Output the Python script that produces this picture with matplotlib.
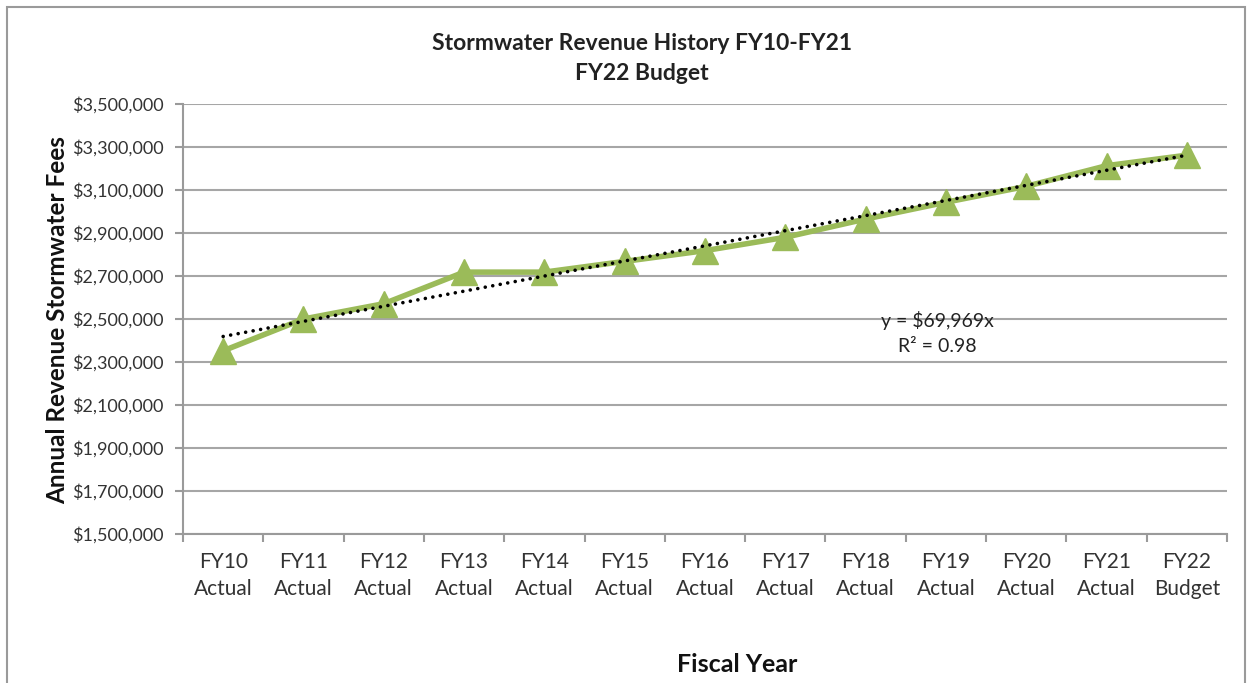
import matplotlib
matplotlib.use("Agg")
import matplotlib.pyplot as plt
import numpy as np
from matplotlib.patches import Rectangle
from matplotlib.ticker import FuncFormatter, FixedLocator

categories = ["FY10\nActual", "FY11\nActual", "FY12\nActual", "FY13\nActual", "FY14\nActual",
              "FY15\nActual", "FY16\nActual", "FY17\nActual", "FY18\nActual", "FY19\nActual",
              "FY20\nActual", "FY21\nActual", "FY22\nBudget"]
revenue = [2352000, 2500000, 2571000, 2718000, 2718000, 2768000, 2818000,
           2880000, 2965000, 3043000, 3117000, 3213000, 3262000]
y_ticks = [1500000, 1700000, 1900000, 2100000, 2300000, 2500000, 2700000,
           2900000, 3100000, 3300000, 3500000]

plt.rcParams['font.family'] = ['Lato', 'DejaVu Sans']

W, H = 1250, 683
fig = plt.figure(figsize=(W / 100, H / 100), dpi=100)
ax = fig.add_axes([183 / W, 1 - 534 / H, (1227 - 183) / W, (534 - 104) / H])

# outer border
fig.patches.append(Rectangle((7 / W, -0.05), (1245 - 7) / W, 1.05 - 7 / H,
                             transform=fig.transFigure, fill=False,
                             edgecolor="#9a9a9a", linewidth=1.5))

x = np.arange(len(categories))
green = "#9BBB59"
ax.plot(x, revenue, color=green, linewidth=4, marker="^", markersize=19,
        markerfacecolor=green, markeredgecolor=green, zorder=3)

# linear trendline
slope, intercept = np.polyfit(x + 1, revenue, 1)
ax.plot(x, slope * (x + 1) + intercept, color="black", linestyle=(0, (0.01, 2.1)),
        linewidth=2.6, zorder=4, dash_capstyle="round")

ax.set_xlim(-0.5, len(categories) - 0.5)
ax.set_ylim(1500000, 3500000)
ax.set_yticks(y_ticks)
ax.yaxis.set_major_formatter(FuncFormatter(lambda v, p: "${:,.0f}".format(v)))
ax.set_xticks(x)
ax.set_xticklabels(categories, fontsize=15, color="#333333", linespacing=1.45)
ax.xaxis.set_minor_locator(FixedLocator(np.arange(-0.5, len(categories), 1.0)))
ax.tick_params(axis="x", which="major", length=0, pad=13)
ax.tick_params(axis="x", which="minor", length=6, color="#9a9a9a", width=1.5)
ax.tick_params(axis="y", length=6, color="#9a9a9a", width=1.5, labelsize=13,
               labelcolor="#333333", pad=8)

ax.grid(axis="y", color="#a6a6a6", linewidth=1.5)
ax.set_axisbelow(True)
for s in ["top", "right"]:
    ax.spines[s].set_visible(False)
for s in ["left", "bottom"]:
    ax.spines[s].set_color("#9a9a9a")
    ax.spines[s].set_linewidth(1.5)

fig.text(642 / W, 1 - 44 / H, "Stormwater Revenue History FY10-FY21", ha="center",
         va="center", fontsize=16.5, fontweight="bold", color="#222222")
fig.text(642 / W, 1 - 73 / H, "FY22 Budget", ha="center", va="center",
         fontsize=16.5, fontweight="bold", color="#222222")
fig.text(58 / W, 1 - 320 / H, "Annual Revenue Stormwater Fees", rotation=90,
         ha="center", va="center", fontsize=17.5, fontweight="bold", color="#111111")
fig.text(737 / W, 1 - 665 / H, "Fiscal Year", ha="center", va="center",
         fontsize=18, fontweight="bold", color="#111111")

ax.text(937 / W, 1 - 320 / H, "y = ${:,.0f}x".format(69969), transform=fig.transFigure,
        ha="center", va="center", fontsize=14, color="#222222")
ax.text(937 / W, 1 - 346 / H, "R² = 0.98", transform=fig.transFigure,
        ha="center", va="center", fontsize=14, color="#222222")

fig.savefig("out.png", dpi=100)
